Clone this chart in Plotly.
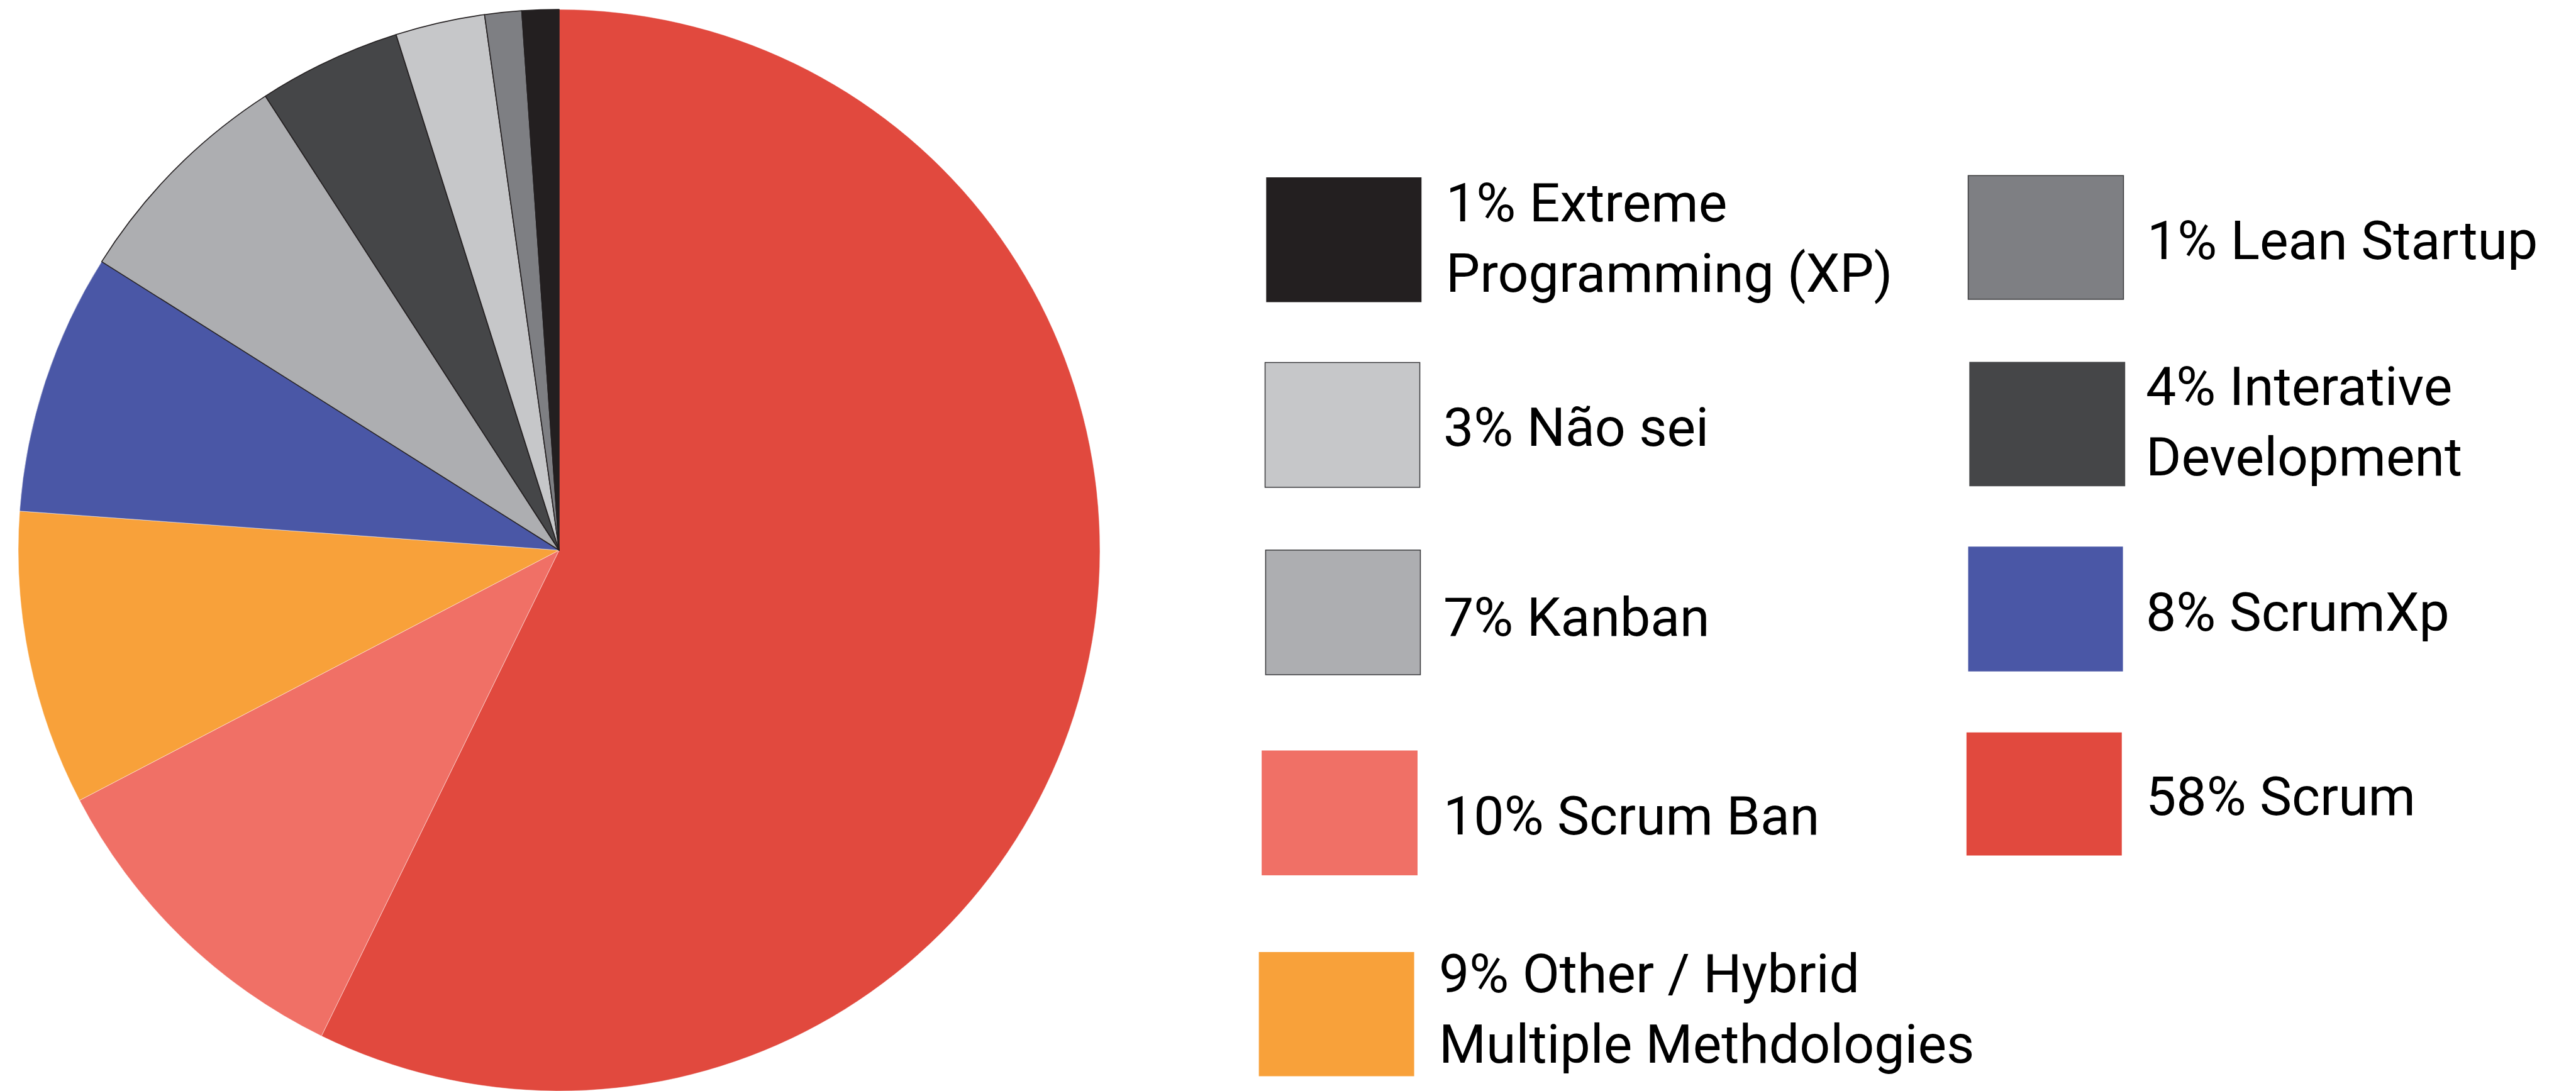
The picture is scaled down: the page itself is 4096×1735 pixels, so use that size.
import plotly.graph_objects as go

# ---- data ----
labels = ["Scrum", "Scrum Ban", "Other / Hybrid Multiple Methdologies", "ScrumXp",
          "Kanban", "Interative Development", "Não sei", "Lean Startup",
          "Extreme Programming (XP)"]
values = [57.2, 10.1, 8.8, 7.8, 6.9, 4.26, 2.67, 1.1, 1.1]
legend_pct = [58, 10, 9, 8, 7, 4, 3, 1, 1]
legend_names = ["Scrum", "Scrum Ban", "Other / Hybrid<br>Multiple Methdologies", "ScrumXp",
                "Kanban", "Interative<br>Development", "Não sei", "Lean Startup",
                "Extreme<br>Programming (XP)"]
colors = ["#E1493E", "#F07066", "#F8A13A", "#4A57A6", "#ADAEB1",
          "#454648", "#C6C7C9", "#7E7F83", "#231F20"]
outlined = [False, False, False, False, True, True, True, True, True]

# ---- layout geometry (reference px -> output px) ----
W, H = 4096, 1735
S = 0.898
# legend box (x0, y0, x1, y1), text x, text y in reference pixels, per slice
legend_pos = [
    (3482, 1297, 3757, 1515, 3797, 1410),   # Scrum
    (2234, 1329, 2510, 1550, 2553, 1445),   # Scrum Ban
    (2229, 1686, 2504, 1906, 2546, 1787),   # Other
    (3485, 968, 3759, 1189, 3797, 1084),    # ScrumXp
    (2241, 974, 2515, 1195, 2553, 1093),    # Kanban
    (3487, 641, 3763, 861, 3797, 747),      # Interative
    (2240, 642, 2514, 863, 2553, 757),      # Não sei
    (3485, 311, 3760, 530, 3800, 426),      # Lean Startup
    (2242, 314, 2517, 535, 2558, 421),      # XP
]

def px(v):
    return v * S / W

def py(v):
    return 1 - v * S / H

cx, cy, r = 889, 875, 860
fig = go.Figure(go.Pie(
    labels=labels,
    values=values,
    sort=False,
    direction="clockwise",
    rotation=0,
    textinfo="none",
    hoverinfo="label+percent",
    showlegend=False,
    marker=dict(
        colors=colors,
        line=dict(color=["#231F20" if o else "rgba(255,255,255,0.6)" for o in outlined],
                  width=[1.6 if o else 0.8 for o in outlined]),
    ),
    domain=dict(x=[(cx - r) / W, (cx + r) / W], y=[(H - cy - r) / H, (H - cy + r) / H]),
))

shapes = []
annotations = []
for i, (x0, y0, x1, y1, tx, ty) in enumerate(legend_pos):
    shapes.append(dict(
        type="rect", xref="paper", yref="paper",
        x0=px(x0), x1=px(x1), y0=py(y1), y1=py(y0),
        fillcolor=colors[i],
        line=dict(color="#3a3a3c", width=1.5) if outlined[i] and colors[i] not in ("#231F20", "#454648") else dict(width=0),
    ))
    annotations.append(dict(
        xref="paper", yref="paper", x=px(tx), y=py(ty),
        xanchor="left", yanchor="middle", align="left", showarrow=False,
        text=f"{legend_pct[i]}% {legend_names[i]}",
        font=dict(family="Roboto, Open Sans, sans-serif", size=86, color="#000000"),
    ))

fig.update_layout(
    width=W, height=H, autosize=False,
    margin=dict(l=0, r=0, t=0, b=0),
    paper_bgcolor="white", plot_bgcolor="white",
    shapes=shapes, annotations=annotations,
)

fig.write_html("out.html",
               config={"displayModeBar": False},
               post_script="document.body.style.margin='0px';document.body.style.overflow='hidden';")
